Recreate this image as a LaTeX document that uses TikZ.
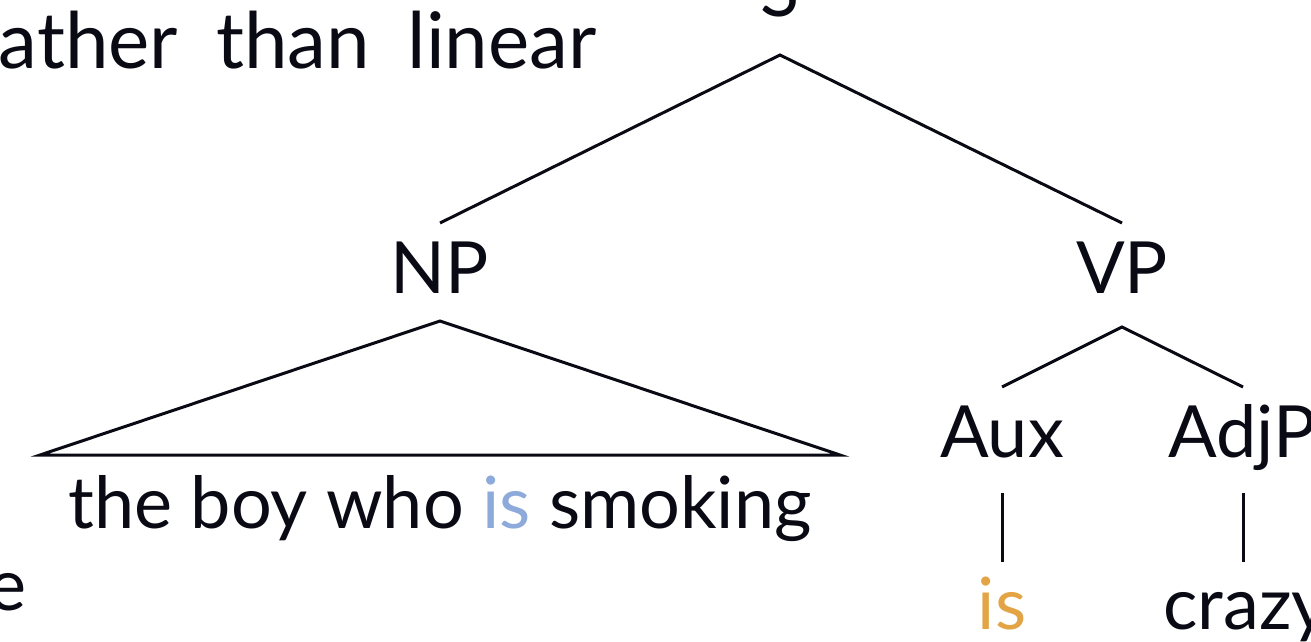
\documentclass[tikz,border=0pt]{standalone}
\usepackage{fontspec}
\setmainfont{Lato}
\definecolor{isblue}{HTML}{8EAADB}
\definecolor{isorange}{HTML}{E3A445}
\definecolor{ink}{HTML}{0A0A14}
\begin{document}
\begin{tikzpicture}[x=1pt,y=-1pt,
  lbl/.style={anchor=base,inner sep=0pt,font=\fontsize{72}{82}\selectfont,text=ink},
  edge/.style={line width=3pt,draw=ink}]
\useasboundingbox (0,0) rectangle (1311,642);
\clip (0,0) rectangle (1311,642);
\node[lbl,anchor=base east,font=\fontsize{78}{88}\selectfont] (title) at (597,68) {rather\hspace{38pt}than\hspace{38pt}linear};
\node[lbl,anchor=base west] (e) at (-12,610) {e};
\node[lbl] (S) at (780,17) {S};
\node[lbl] (NP) at (440,293) {NP};
\node[lbl] (VP) at (1122,293) {VP};
\node[lbl] (Aux) at (1002,457) {Aux};
\node[lbl,anchor=base west] (AdjP) at (1168,457) {AdjP};
\node[lbl] (words) at (440,528) {the boy who \textcolor{isblue}{is} smoking};
\node[lbl,text=isorange] (is) at (1002,629) {is};
\node[lbl,anchor=base west] (crazy) at (1163,629) {crazy};
\coordinate (Stop) at (780,55);
\coordinate (NPtop) at (440,223);
\coordinate (VPtop) at (1122,223);
\coordinate (tri) at (440,321);
\coordinate (triL) at (40,455);
\coordinate (triR) at (840,455);
\coordinate (VPb) at (1122,327);
\coordinate (AuxT) at (1002,387);
\coordinate (AdjT) at (1243,387);
\coordinate (AuxB) at (1002,493);
\coordinate (isT) at (1002,562);
\coordinate (AdjB) at (1243,493);
\coordinate (crT) at (1243,562);
\draw[edge] (NPtop) -- (Stop) -- (VPtop);
\draw[edge] (triL) -- (tri) -- (triR) -- cycle;
\draw[edge] (AuxT) -- (VPb) -- (AdjT);
\draw[edge] (AuxB) -- (isT);
\draw[edge] (AdjB) -- (crT);
\end{tikzpicture}
\end{document}
